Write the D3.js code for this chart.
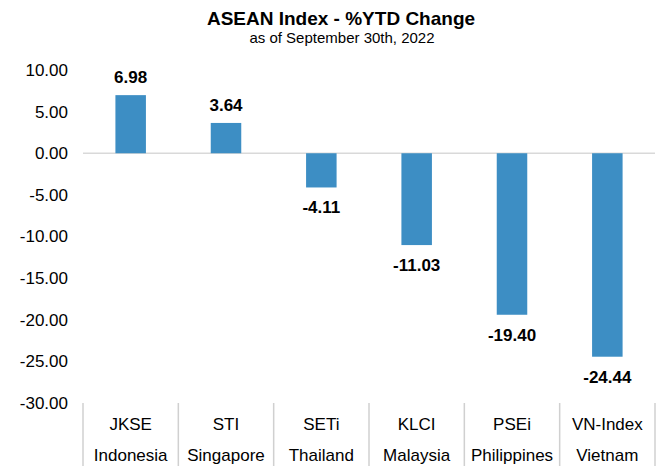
<!DOCTYPE html>
<html>
<head>
<meta charset="utf-8">
<script src="https://cdn.jsdelivr.net/npm/d3@7"></script>
<style>
  body { margin: 0; background: #fff; }
  text { font-family: "Liberation Sans", Arial, sans-serif; fill: #000; }
</style>
</head>
<body>
<div id="chart"></div>
<script>
"use strict";
// data
const tickers = ["JKSE", "STI", "SETi", "KLCI", "PSEi", "VN-Index"];
const countries = ["Indonesia", "Singapore", "Thailand", "Malaysia", "Philippines", "Vietnam"];
const ytdChange = [6.98, 3.64, -4.11, -11.03, -19.40, -24.44];
const yTicks = [10, 5, 0, -5, -10, -15, -20, -25, -30];

const width = 656, height = 466;
const plot = { left: 83, right: 655, top: 70, bottom: 403 };

// plain hyphen for negatives, like the original
const fmt = d => d.toFixed(2);

const svg = d3.select("#chart").append("svg")
    .attr("width", width)
    .attr("height", height);

// title
svg.append("text")
    .attr("x", 341).attr("y", 25)
    .attr("text-anchor", "middle")
    .style("font-size", "19px").style("font-weight", "bold")
    .text("ASEAN Index - %YTD Change");
svg.append("text")
    .attr("x", 342).attr("y", 43)
    .attr("text-anchor", "middle")
    .style("font-size", "15px")
    .text("as of September 30th, 2022");

// scales
let y = d3.scaleLinear()
    .domain([-30, 10])
    .range([plot.bottom, plot.top]);

let x = d3.scaleBand()
    .domain(tickers)
    .range([plot.left, plot.right])
    .paddingInner(0.68)
    .paddingOuter(0.34);

let xCat = d3.scaleBand()
    .domain(tickers)
    .range([plot.left, plot.right])
    .padding(0);

// y axis labels (no line)
let yAxis = svg.append("g")
    .attr("transform", "translate(" + plot.left + ",0)")
    .call(d3.axisLeft(y).tickValues(yTicks).tickSize(0).tickPadding(15)
        .tickFormat(fmt));
yAxis.select(".domain").remove();
yAxis.selectAll("text")
    .style("font-size", "17px")
    .style("font-family", "'Liberation Sans', Arial, sans-serif")
    .attr("fill", "#000");

// zero line
svg.append("line")
    .attr("x1", plot.left).attr("x2", plot.right)
    .attr("y1", y(0)).attr("y2", y(0))
    .attr("stroke", "#d9d9d9")
    .attr("stroke-width", 1.5);

// bars
let data = tickers.map((t, i) => ({ ticker: t, country: countries[i], value: ytdChange[i] }));

svg.append("g")
    .selectAll("rect")
    .data(data)
    .enter()
    .append("rect")
    .attr("x", d => x(d.ticker))
    .attr("width", x.bandwidth())
    .attr("y", d => y(Math.max(0, d.value)))
    .attr("height", d => Math.abs(y(d.value) - y(0)))
    .attr("fill", "#3d8ec4");

// value labels
svg.append("g")
    .selectAll("text")
    .data(data)
    .enter()
    .append("text")
    .attr("x", d => x(d.ticker) + x.bandwidth() / 2)
    .attr("y", d => d.value >= 0 ? y(d.value) - 12 : y(d.value) + 26)
    .attr("text-anchor", "middle")
    .style("font-size", "17px")
    .style("font-weight", "bold")
    .text(d => fmt(d.value));

// category separators below the plot
let seps = tickers.map(t => xCat(t)).concat([plot.right]);
svg.append("g")
    .selectAll("line")
    .data(seps)
    .enter()
    .append("line")
    .attr("x1", d => d).attr("x2", d => d)
    .attr("y1", plot.bottom).attr("y2", height)
    .attr("stroke", "#d0d0d0")
    .attr("stroke-width", 1.5);

// category labels (two lines)
let cats = svg.append("g")
    .selectAll("g")
    .data(data)
    .enter()
    .append("g")
    .attr("transform", d => "translate(" + (xCat(d.ticker) + xCat.bandwidth() / 2) + ",0)");
cats.append("text")
    .attr("y", 430)
    .attr("text-anchor", "middle")
    .style("font-size", "17px")
    .text(d => d.ticker);
cats.append("text")
    .attr("y", 461)
    .attr("text-anchor", "middle")
    .style("font-size", "17px")
    .text(d => d.country);
</script>
</body>
</html>
